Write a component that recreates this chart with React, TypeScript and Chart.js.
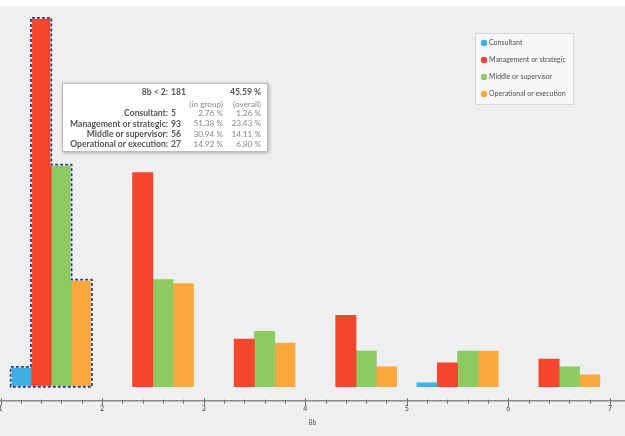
import React, { useEffect, useRef } from 'react';
import { Chart, registerables } from 'chart.js';

Chart.register(...registerables);

// Histogram bins (lower edge of each unit-wide bin on the 8b axis)
const bins = [1, 2, 3, 4, 5, 6];
const seriesNames = ['Consultant', 'Management or strategic', 'Middle or supervisor', 'Operational or execution'];
const consultant = [5, 0, 0, 0, 1, 0];
const management = [93, 54, 12, 18, 6, 7];
const middle = [56, 27, 14, 9, 9, 5];
const operational = [27, 26, 11, 5, 9, 3];
const xTickValues = [1, 2, 3, 4, 5, 6, 7];
const axisTitle = '8b';
const seriesColors = ['#3fb0e6', '#f5452c', '#8cca62', '#fda83d'];
const highlightBin = 0;

const seriesValues = [consultant, management, middle, operational];
const FONT = "Lato, 'Open Sans', sans-serif";

const backdrop = {
  id: 'backdrop',
  beforeDraw(chart: any) {
    const { ctx, width, height } = chart;
    ctx.save();
    ctx.fillStyle = '#eeefef';
    ctx.fillRect(0, 0, width, height);
    ctx.fillStyle = '#ffffff';
    ctx.fillRect(0, 0, width, 6);
    ctx.restore();
  },
};

// Dashed outline around the selected bin's bars
const selection = {
  id: 'selection',
  afterDatasetsDraw(chart: any) {
    const els = seriesValues.map((_, s) => chart.getDatasetMeta(s).data[highlightBin]) as any[];
    const ctx = chart.ctx;
    const base = els[0].base;
    const path = () => {
      ctx.beginPath();
      ctx.moveTo(els[0].x - els[0].width / 2, base);
      els.forEach((e) => {
        ctx.lineTo(e.x - e.width / 2, e.y);
        ctx.lineTo(e.x + e.width / 2, e.y);
      });
      const last = els[els.length - 1];
      ctx.lineTo(last.x + last.width / 2, base);
      ctx.closePath();
    };
    ctx.save();
    path();
    ctx.strokeStyle = 'rgba(255,255,255,0.8)';
    ctx.lineWidth = 2.2;
    ctx.stroke();
    path();
    ctx.setLineDash([3, 2]);
    ctx.strokeStyle = '#2e3d8c';
    ctx.lineWidth = 1.8;
    ctx.stroke();
    ctx.restore();
  },
};

// Major and minor tick marks across the x axis line
const axisTicks = {
  id: 'axisTicks',
  afterDraw(chart: any) {
    const scale = chart.scales.x;
    const ctx = chart.ctx;
    const y0 = scale.top;
    ctx.save();
    ctx.strokeStyle = '#707070';
    ctx.lineWidth = 1;
    for (let k = 0; k <= 40; k++) {
      const v = xTickValues[0] + k * 0.2;
      if (v > scale.max) break;
      const px = Math.round(scale.getPixelForValue(v)) + 0.5;
      const major = k % 5 === 0;
      ctx.beginPath();
      ctx.moveTo(px, y0 - (major ? 3 : 1.5));
      ctx.lineTo(px, y0 + (major ? 4 : 2.5));
      ctx.stroke();
    }
    ctx.restore();
  },
};

const legendBox = {
  id: 'legendBox',
  afterDraw(chart: any) {
    const ctx = chart.ctx;
    ctx.save();
    ctx.fillStyle = '#f6f7f7';
    ctx.strokeStyle = '#d6d8d8';
    ctx.lineWidth = 1;
    ctx.fillRect(475.5, 33.5, 98, 71);
    ctx.strokeRect(475.5, 33.5, 98, 71);
    ctx.font = `7px ${FONT}`;
    ctx.textBaseline = 'middle';
    seriesNames.forEach((name, i) => {
      const y = 43 + i * 17;
      ctx.beginPath();
      ctx.arc(484, y, 3.2, 0, Math.PI * 2);
      ctx.fillStyle = seriesColors[i];
      ctx.fill();
      ctx.fillStyle = '#505050';
      ctx.fillText(name, 489, y);
    });
    ctx.restore();
  },
};

// Summary box for the selected bin
const binSummary = {
  id: 'binSummary',
  afterDraw(chart: any) {
    const ctx = chart.ctx;
    const total = seriesValues.reduce((a, arr) => a + arr.reduce((p, q) => p + q, 0), 0);
    const counts = seriesValues.map((arr) => arr[highlightBin]);
    const groupTotal = counts.reduce((p, q) => p + q, 0);
    const pct = (n: number, d: number) => `${((n / d) * 100).toFixed(2)} %`;
    const x0 = 62, y0 = 83, w = 206, h = 69;
    const labelRight = 168, countLeft = 171, inGroupRight = 223, overallRight = 261;

    ctx.save();
    ctx.shadowColor = 'rgba(0,0,0,0.28)';
    ctx.shadowBlur = 4;
    ctx.shadowOffsetX = 1;
    ctx.shadowOffsetY = 1;
    ctx.fillStyle = '#ffffff';
    ctx.fillRect(x0, y0, w, h);
    ctx.restore();

    ctx.save();
    ctx.strokeStyle = '#bdbdbd';
    ctx.lineWidth = 1;
    ctx.strokeRect(x0 + 0.5, y0 + 0.5, w - 1, h - 1);
    ctx.textBaseline = 'middle';

    const bold = `bold 8.6px ${FONT}`;
    const normal = `8.2px ${FONT}`;
    const text = (s: string, x: number, y: number, align: CanvasTextAlign, font: string, color: string) => {
      ctx.font = font;
      ctx.fillStyle = color;
      ctx.textAlign = align;
      ctx.fillText(s, x, y);
    };

    const upper = bins[highlightBin] + 1;
    text(`${axisTitle} < ${upper}:`, labelRight, 92, 'right', bold, '#555');
    text(`${groupTotal}`, countLeft, 92, 'left', bold, '#555');
    text(pct(groupTotal, total), overallRight, 92, 'right', bold, '#555');
    text('(in group)', inGroupRight, 104, 'right', normal, '#8a8a8a');
    text('(overall)', overallRight, 104, 'right', normal, '#8a8a8a');
    seriesNames.forEach((name, i) => {
      const y = 113.5 + i * 10.3;
      text(`${name}:`, labelRight, y, 'right', bold, '#555');
      text(`${counts[i]}`, countLeft, y, 'left', bold, '#555');
      text(pct(counts[i], groupTotal), inGroupRight, y, 'right', normal, '#8a8a8a');
      text(pct(counts[i], total), overallRight, y, 'right', normal, '#8a8a8a');
    });
    ctx.restore();
  },
};

export default function App() {
  const canvasRef = useRef<HTMLCanvasElement | null>(null);

  useEffect(() => {
    if (!canvasRef.current) return;
    const datasets = seriesNames.map((name, s) => ({
      label: name,
      // empty cells are left undrawn
      data: bins.map((b, i) => ({ x: b + 0.2 * (s + 1), y: seriesValues[s][i] === 0 ? null : seriesValues[s][i] })),
      backgroundColor: seriesColors[s],
      borderWidth: 0,
      grouped: false,
      categoryPercentage: 1,
      barPercentage: 1,
    }));

    const chart = new Chart(canvasRef.current, {
      type: 'bar',
      data: { datasets },
      options: {
        animation: false,
        responsive: true,
        maintainAspectRatio: false,
        layout: { padding: { top: 10, bottom: 4, left: 0, right: 0 } },
        plugins: {
          legend: { display: false },
          tooltip: { enabled: false },
        },
        scales: {
          x: {
            type: 'linear',
            offset: false,
            min: 0.995,
            max: 7.148,
            afterBuildTicks: (scale: any) => {
              scale.ticks = xTickValues.map((v) => ({ value: v }));
            },
            afterFit: (scale: any) => {
              scale.paddingLeft = 0;
              scale.paddingRight = 0;
            },
            grid: { display: false, drawTicks: false, offset: false },
            border: { display: true, color: '#8a8a8a', width: 1.5 },
            ticks: {
              color: '#444',
              font: { size: 7, family: FONT },
              padding: 3,
              maxRotation: 0,
            },
            title: {
              display: true,
              text: axisTitle,
              color: '#555',
              font: { size: 7, family: FONT },
              padding: { top: 3, bottom: 5 },
            },
          },
          y: {
            display: false,
            min: -3.65,
            max: 95,
          },
        },
      } as any,
      plugins: [backdrop, selection, axisTicks, legendBox, binSummary],
    });
    return () => chart.destroy();
  }, []);

  return (
    <div style={{ position: 'fixed', left: 0, top: 0, width: 625, height: 436 }}>
      <canvas ref={canvasRef} />
    </div>
  );
}
